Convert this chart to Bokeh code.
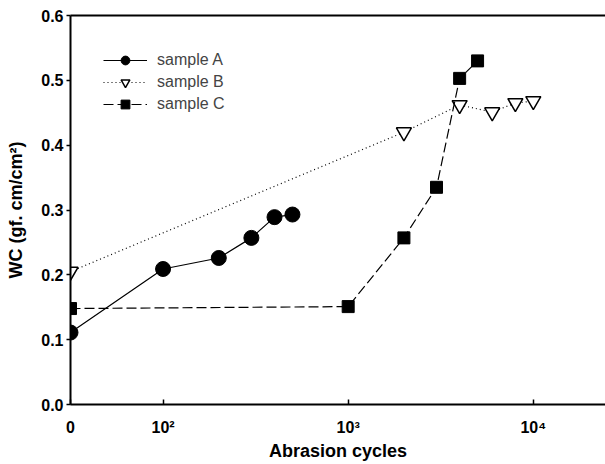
import math
from bokeh.plotting import figure
from bokeh.models import (Legend, LegendItem, FixedTicker, LinearAxis,
                          NumeralTickFormatter, Range1d, ColumnDataSource)
from bokeh.embed import file_html
from bokeh.resources import INLINE

# ---- data ----
cycles_a = [0, 100, 200, 300, 400, 500]
wc_a = [0.111, 0.209, 0.226, 0.257, 0.289, 0.293]

cycles_b = [0, 2000, 4000, 6000, 8000, 10000]
wc_b = [0.205, 0.420, 0.462, 0.451, 0.465, 0.468]

cycles_c = [0, 1000, 2000, 3000, 4000, 5000]
wc_c = [0.148, 0.151, 0.257, 0.335, 0.503, 0.530]

x_tick_values = [0, 100, 1000, 10000]
x_tick_labels = ["0", "10²", "10³", "10⁴"]
y_tick_values = [0.0, 0.1, 0.2, 0.3, 0.4, 0.5, 0.6]

ZERO_POS = 1.5  # where the "0" cycles point sits on the log10 axis


def pos(c):
    return math.log10(c) if c > 0 else ZERO_POS


FONT = "Liberation Sans"

p = figure(width=605, height=464, output_backend="svg", toolbar_location=None,
           x_range=Range1d(1.5, 4.39), y_range=Range1d(0, 0.6),
           min_border_left=70, min_border_right=0, min_border_top=15,
           min_border_bottom=60)
p.outline_line_color = None
p.grid.visible = False
p.background_fill_color = "white"

src_a = ColumnDataSource(dict(x=[pos(c) for c in cycles_a], y=wc_a))
src_b = ColumnDataSource(dict(x=[pos(c) for c in cycles_b], y=wc_b))
src_c = ColumnDataSource(dict(x=[pos(c) for c in cycles_c], y=wc_c))

la = p.line("x", "y", source=src_a, line_color="black", line_width=1.2)
sa = p.scatter("x", "y", source=src_a, marker="circle", size=15,
               fill_color="black", line_color="black")

lb = p.line("x", "y", source=src_b, line_color="black", line_width=1.2,
            line_dash="1 3")
sb = p.scatter("x", "y", source=src_b, marker="inverted_triangle", size=15,
               fill_color="white", line_color="black", line_width=1.5)

lc = p.line("x", "y", source=src_c, line_color="black", line_width=1.2,
            line_dash="10 4")
sc = p.scatter("x", "y", source=src_c, marker="square", size=12,
               fill_color="black", line_color="black")

# axes
xa = p.xaxis[0]
xa.ticker = FixedTicker(ticks=[pos(v) for v in x_tick_values])
xa.major_label_overrides = {pos(v): lab for v, lab in zip(x_tick_values, x_tick_labels)}
xa.minor_tick_line_color = None
xa.major_tick_in = 5
xa.major_tick_out = 0
xa.major_label_standoff = 14
xa.axis_label = "Abrasion cycles"
xa.axis_label_standoff = 2

ya = p.yaxis[0]
ya.ticker = FixedTicker(ticks=y_tick_values)
ya.formatter = NumeralTickFormatter(format="0.0")
ya.minor_tick_line_color = None
ya.major_tick_in = 0
ya.major_tick_out = 4
ya.major_label_standoff = 3
ya.axis_label = "WC (gf. cm/cm²)"
ya.axis_label_standoff = 12

for ax in (xa, ya):
    ax.axis_line_width = 2
    ax.major_tick_line_width = 1.5
    ax.axis_line_color = "black"
    ax.major_tick_line_color = "black"
    ax.major_label_text_font = FONT
    ax.major_label_text_font_style = "bold"
    ax.major_label_text_font_size = "16px"
    ax.major_label_text_color = "black"
    ax.axis_label_text_font = FONT
    ax.axis_label_text_font_style = "bold"
    ax.axis_label_text_font_size = "18px"
    ax.axis_label_text_color = "black"

top = LinearAxis(ticker=FixedTicker(ticks=[]), axis_line_width=2,
                 axis_line_color="black", major_tick_line_color=None,
                 minor_tick_line_color=None, major_label_text_font_size="0px")
p.add_layout(top, "above")

legend = Legend(items=[
    LegendItem(label="sample A", renderers=[la, sa]),
    LegendItem(label="sample B", renderers=[lb, sb]),
    LegendItem(label="sample C", renderers=[lc, sc]),
], location=(33, 289))
legend.border_line_alpha = 0
legend.background_fill_alpha = 0
legend.label_text_font = FONT
legend.label_text_font_size = "16px"
legend.glyph_width = 44
legend.glyph_height = 22
legend.spacing = 0
legend.padding = 0
legend.margin = 0
legend.label_standoff = 10
p.add_layout(legend)

open("out.html", "w").write(file_html(p, INLINE))
